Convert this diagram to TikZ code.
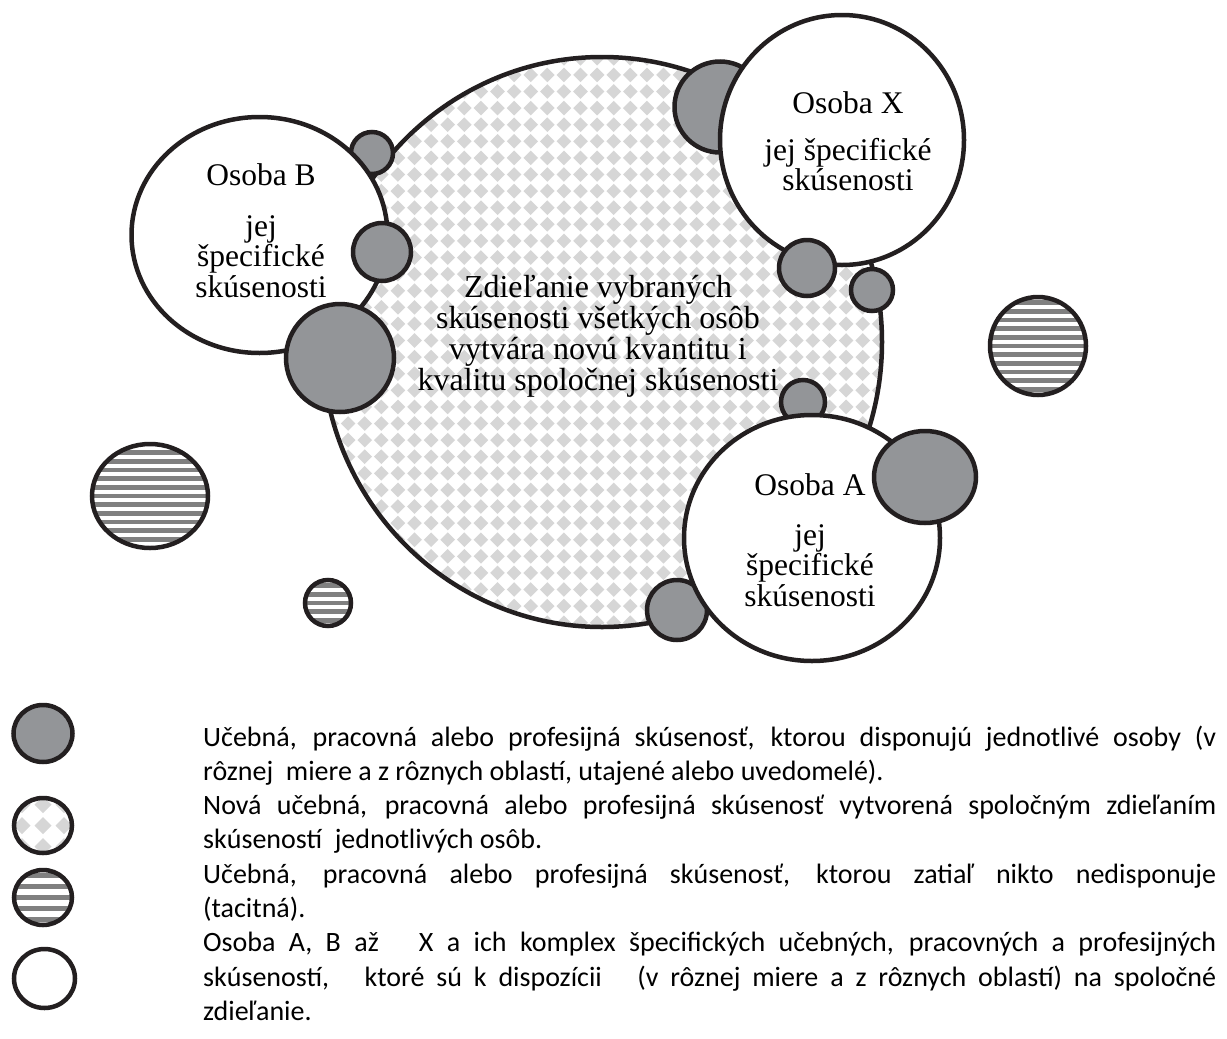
\documentclass[tikz,border=0pt]{standalone}
\usepackage{fontspec}
\setmainfont{Liberation Serif}
\newfontfamily\legendfont{Carlito}

\definecolor{ink}{HTML}{231F20}
\definecolor{expgrey}{HTML}{939598}
\definecolor{chkgrey}{HTML}{D6D6D6}
\definecolor{hatchgrey}{HTML}{808080}

\tikzset{
  outline/.style={draw=ink, line width=4.5pt},
  expdisc/.style={outline, fill=expgrey},
  persondisc/.style={outline, fill=white},
  bodytext/.style={anchor=base, inner sep=0pt, font=\fontsize{31.5}{30.5}\selectfont},
}

% disc with horizontal grey stripes: cx, cy, rx, ry, period, half stripe
\newcommand\hatchdisc[6]{%
  \begin{scope}
    \clip (#1,#2) ellipse [x radius=#3, y radius=#4];
    \fill[white] (#1,#2) ellipse [x radius=#3, y radius=#4];
    \foreach \k in {-14,...,14}{
      \fill[hatchgrey] ({#1-#3-2},{#2+#5*\k-#6}) rectangle ({#1+#3+2},{#2+#5*\k+#6});
    }
  \end{scope}
  \draw[outline] (#1,#2) ellipse [x radius=#3, y radius=#4];
}

% disc filled with a grid of light diamonds:
% cx, cy, rx, ry, period, half diagonal, x phase, y phase, grid half count
\newcommand\checkerdisc[9]{%
  \begin{scope}
    \clip (#1,#2) ellipse [x radius=#3, y radius=#4];
    \fill[white] (#1,#2) ellipse [x radius=#3, y radius=#4];
    \foreach \i in {-#9,...,#9}{
      \foreach \j in {-#9,...,#9}{
        \fill[chkgrey] ({#1+#7+#5*\i},{#2+#8+#5*\j})
          +(-#6,0) -- +(0,-#6) -- +(#6,0) -- +(0,#6) -- cycle;
      }
    }
  \end{scope}
  \draw[outline] (#1,#2) ellipse [x radius=#3, y radius=#4];
}

\begin{document}
\begin{tikzpicture}[x=1pt,y=-1pt]
\useasboundingbox (0,0) rectangle (1227,1039);

% experience nobody holds yet
\hatchdisc{1038}{346}{48}{49}{8.7}{2.35}
\hatchdisc{150}{496}{58}{52}{8.7}{2.35}
\hatchdisc{328}{603}{23}{23}{8.7}{2.35}

% shared experience
\checkerdisc{602}{342}{280}{285}{16.6}{7.3}{11.7}{-1.5}{18}

% individual experiences lying behind the persons
\draw[expdisc] (372,153) circle [radius=21];
\draw[expdisc] (720,107) circle [radius=45.5];
\draw[expdisc] (803,402) circle [radius=22];
\draw[expdisc] (677,610) circle [radius=30];

% persons
\draw[persondisc] (259.5,235) ellipse [x radius=128, y radius=118];
\draw[persondisc] (842,140) ellipse [x radius=122, y radius=125];
\draw[persondisc] (812,538) ellipse [x radius=128, y radius=123];

% individual experiences in front
\draw[expdisc] (382,252) circle [radius=29];
\draw[expdisc] (340,358) circle [radius=54];
\draw[expdisc] (807,268) circle [radius=28];
\draw[expdisc] (872,290) circle [radius=21];
\draw[expdisc] (925,477) ellipse [x radius=51, y radius=46];

% texts in the diagram
\node[bodytext] (personB) at (261,185)
  {\parbox[t]{250pt}{\centering Osoba B\\[20.5pt] jej\\ špecifické\\ skúsenosti}};
\node[bodytext] (personX) at (848,113)
  {\parbox[t]{250pt}{\centering Osoba X\\[16.5pt] jej špecifické\\ skúsenosti}};
\node[bodytext] (personA) at (810,495)
  {\parbox[t]{250pt}{\centering Osoba A\\[19.5pt] jej\\ špecifické\\ skúsenosti}};
\node[bodytext, font=\fontsize{32}{31.3}\selectfont] (shared) at (598,297)
  {\parbox[t]{440pt}{\centering Zdieľanie vybraných\\ skúsenosti všetkých osôb\\
   vytvára novú kvantitu i\\ kvalitu spoločnej skúsenosti}};

% legend symbols
\draw[expdisc] (43,733.5) ellipse [x radius=29.5, y radius=28.5];
\checkerdisc{43}{825.5}{29}{27.5}{21}{8.5}{0}{0}{2}
\hatchdisc{43}{897.5}{29}{27.5}{11}{2.8}
\draw[persondisc] (44.5,978.5) ellipse [x radius=30.5, y radius=29.5];

% legend text
\node[anchor=base west, inner sep=0pt] (legend) at (203,746)
  {\parbox[t]{1013pt}{\legendfont\fontsize{28}{34.3}\selectfont
   Učebná, pracovná alebo profesijná skúsenosť, ktorou disponujú jednotlivé osoby (v\linebreak
   rôznej\ \ miere a z rôznych oblastí, utajené alebo uvedomelé).\par
   Nová učebná, pracovná alebo profesijná skúsenosť vytvorená spoločným zdieľaním\linebreak
   skúseností\ \ jednotlivých osôb.\par
   Učebná, pracovná alebo profesijná skúsenosť, ktorou zatiaľ nikto nedisponuje\linebreak
   (tacitná).\par
   Osoba A, B až\ \ \ X a ich komplex špecifických učebných, pracovných a~profesijných\linebreak
   skúseností,\ \ \ ktoré sú k~dispozícii\ \ \ (v rôznej miere a z rôznych oblastí) na spoločné\linebreak
   zdieľanie.}};
\end{tikzpicture}
\end{document}
